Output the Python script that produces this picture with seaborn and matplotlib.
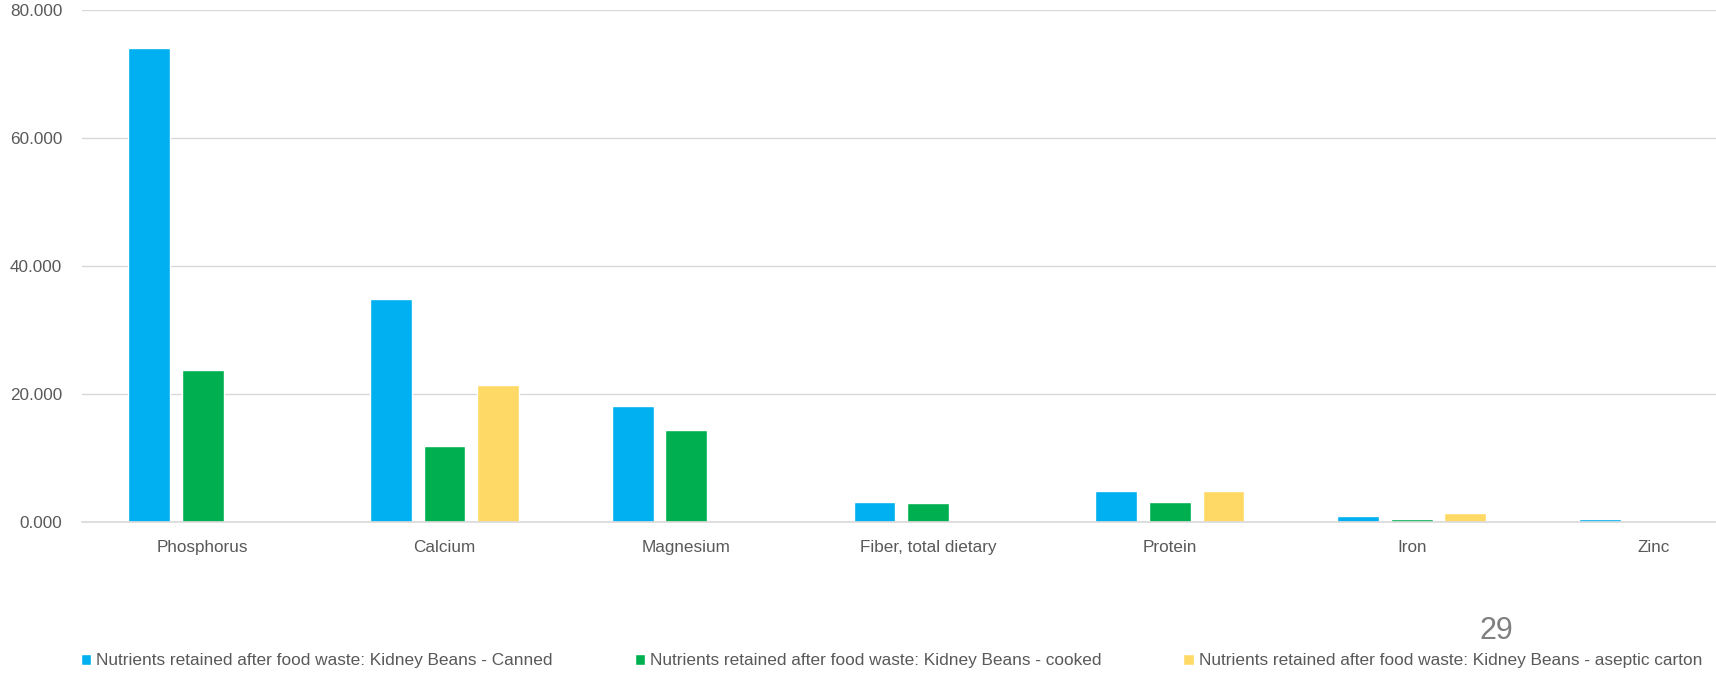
import pandas as pd
import matplotlib
matplotlib.use('Agg')
import matplotlib.pyplot as plt
import seaborn as sns

nutrients = ['Phosphorus', 'Calcium', 'Magnesium', 'Fiber, total dietary',
             'Protein', 'Iron', 'Zinc']
series = ['Nutrients retained after food waste: Kidney Beans - Canned',
          'Nutrients retained after food waste: Kidney Beans - cooked',
          'Nutrients retained after food waste: Kidney Beans - aseptic carton']
canned = [74.0, 34.9, 18.1, 3.2, 4.8, 0.9, 0.4]
cooked = [23.8, 11.8, 14.4, 2.9, 3.1, 0.5, 0.0]
aseptic = [0.0, 21.4, 0.0, 0.0, 4.8, 1.4, 0.0]
yticks = [0, 20, 40, 60, 80]

my_pal = {series[0]: '#00B0F0', series[1]: '#00B050', series[2]: '#FFD966'}
grey = '#595959'

df = pd.DataFrame({'nutrient': nutrients * 3,
                   'series': [series[0]] * 7 + [series[1]] * 7 + [series[2]] * 7,
                   'value': canned + cooked + aseptic})

sns.set_style('white')
plt.rcParams['font.family'] = ['Liberation Sans', 'DejaVu Sans']

fig = plt.figure(figsize=(17.16, 6.73), dpi=100)
# axes runs past the right edge of the figure, as in the reference
ax = fig.add_axes([0.0476, 0.2244, 0.9865, 0.7606])

sns.barplot(data=df, x='nutrient', y='value', hue='series', order=nutrients,
            hue_order=series, palette=my_pal, width=0.665, gap=0.22,
            saturation=1, legend=True, ax=ax)

ax.set_ylim(0, 80)
ax.set_xlim(-0.5, 6.5)
ax.set_yticks(yticks)
ax.set_yticklabels([f'{v:.3f}' for v in yticks])
ax.yaxis.grid(True, color='#D9D9D9', linewidth=1)
ax.set_axisbelow(True)
for s in ['top', 'right', 'left']:
  ax.spines[s].set_visible(False)
ax.spines['bottom'].set_color('#D9D9D9')
ax.spines['bottom'].set_linewidth(1.2)
ax.tick_params(axis='both', length=0, labelsize=12.3, colors=grey)
ax.tick_params(axis='x', pad=13)
ax.tick_params(axis='y', pad=14)
ax.set_xlabel('')
ax.set_ylabel('')

handles, labels = ax.get_legend_handles_labels()
ax.get_legend().remove()
fig.legend(handles, labels, loc='lower left', bbox_to_anchor=(0.038, -0.016),
           ncol=3, frameon=False, fontsize=12.4, labelcolor=grey,
           handlelength=0.6, handleheight=0.6, handletextpad=0.3,
           columnspacing=4.75)

fig.text(0.862, 0.062, '29', fontsize=22, color='#7F7F7F', ha='left', va='center')

plt.savefig('out.png', dpi=100)
plt.close(fig)
